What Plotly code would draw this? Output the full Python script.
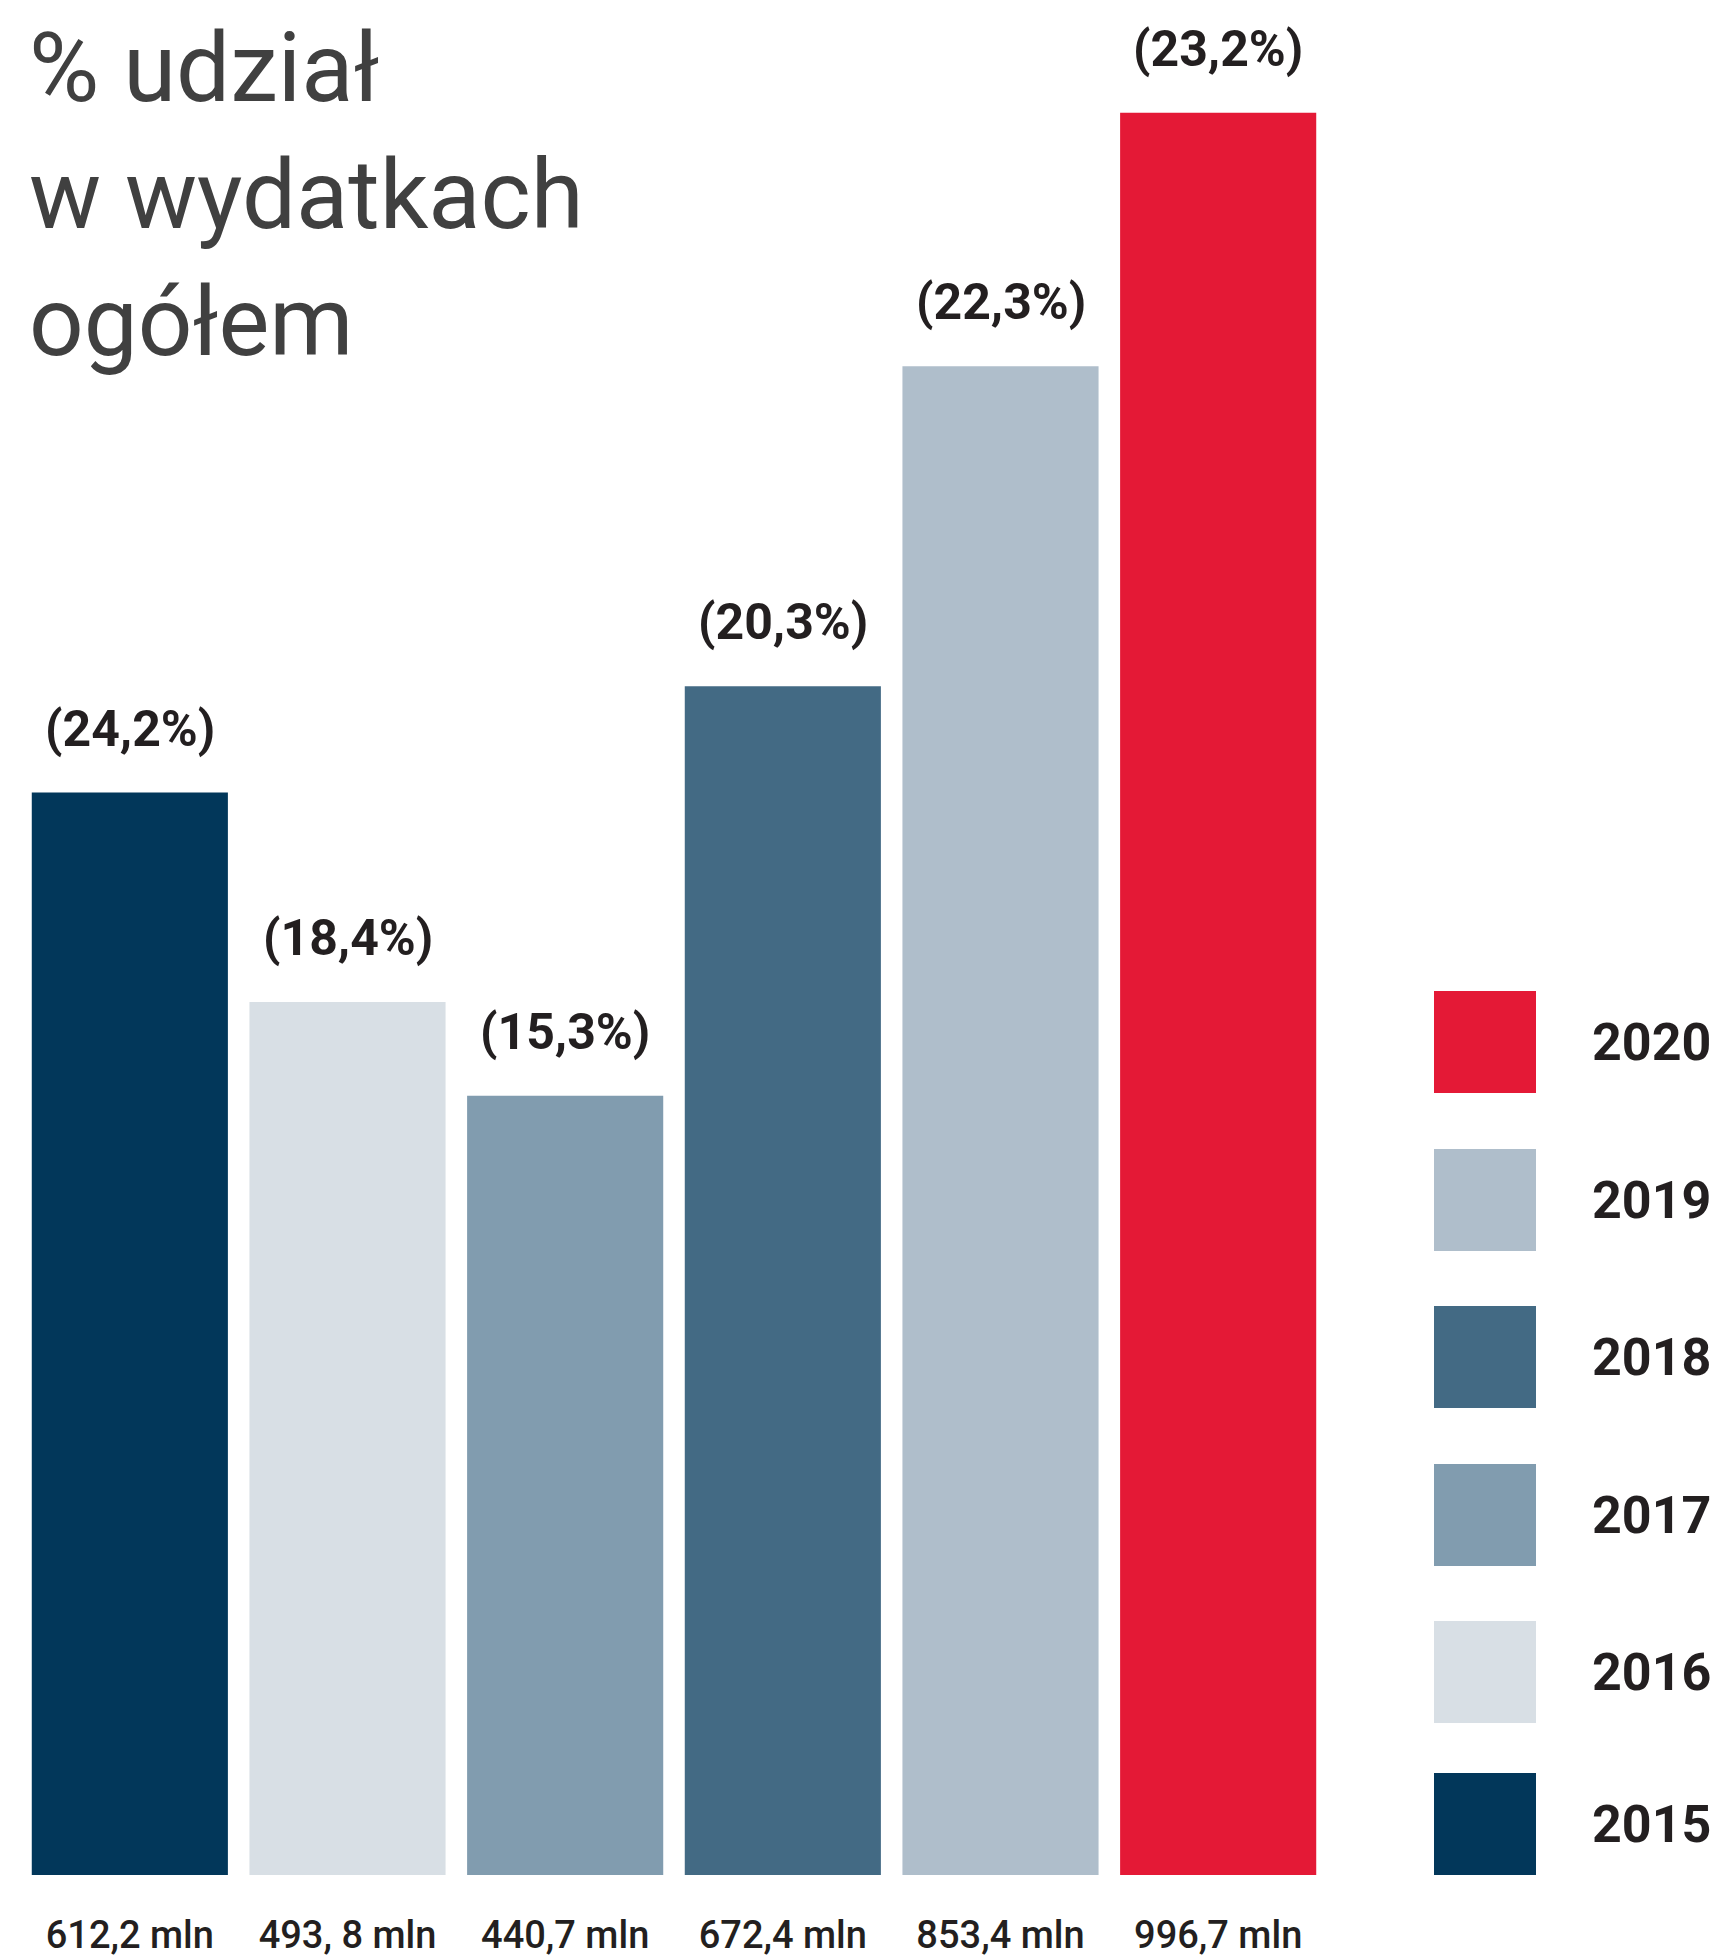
import plotly.graph_objects as go

# ---- data ----
years = ["2015", "2016", "2017", "2018", "2019", "2020"]
values_mln = [612.2, 493.8, 440.7, 672.4, 853.4, 996.7]
value_labels = ["612,2 mln", "493, 8 mln", "440,7 mln", "672,4 mln", "853,4 mln", "996,7 mln"]
share_labels = ["(24,2%)", "(18,4%)", "(15,3%)", "(20,3%)", "(22,3%)", "(23,2%)"]
colors = ["#02375A", "#D8DFE5", "#819CAF", "#436A84", "#AFBECB", "#E41936"]
title_lines = ["% udział", "w wydatkach", "ogółem"]

# ---- layout geometry (pixels) ----
W, H = 1716, 1960
ML, MR, MT, MB = 21, 389, 20, 85
PW = W - ML - MR
PH = H - MT - MB
YMAX = 1049.2

FONT = "Roboto, Liberation Sans, sans-serif"
DARK = "#231F20"


def px_x(px):
    return (px - ML) / PW


def px_y(py):
    return (H - MB - py) / PH


idx = list(range(len(years)))

fig = go.Figure()
fig.add_trace(go.Bar(
    x=idx,
    y=values_mln,
    marker=dict(color=colors, line=dict(width=0)),
    showlegend=False,
    hoverinfo="skip",
))

annotations = []
# percentage labels above bars
for i, v, lab in zip(idx, values_mln, share_labels):
    annotations.append(dict(
        x=i, y=v, xref="x", yref="y", text=lab, showarrow=False,
        yanchor="middle", xanchor="center", yshift=64,
        font=dict(family=FONT, size=50, color=DARK, weight=700),
    ))

# title lines
for i, line in enumerate(title_lines):
    annotations.append(dict(
        x=px_x(27), y=px_y(68 + 127 * i), xref="paper", yref="paper",
        text=line, showarrow=False, xanchor="left", yanchor="middle",
        font=dict(family=FONT, size=96, color="#404040"),
    ))

# legend (custom, top = newest year)
shapes = []
leg_tops = [991, 1149, 1306, 1464, 1621, 1773]
for top, yr, col in zip(leg_tops, years[::-1], colors[::-1]):
    shapes.append(dict(
        type="rect", xref="paper", yref="paper",
        x0=px_x(1434), x1=px_x(1536), y0=px_y(top + 102), y1=px_y(top),
        fillcolor=col, line=dict(width=0), layer="above",
    ))
    annotations.append(dict(
        x=px_x(1590), y=px_y(top + 51), xref="paper", yref="paper",
        text=yr, showarrow=False, xanchor="left", yanchor="middle",
        font=dict(family=FONT, size=52, color=DARK, weight=700),
    ))

fig.update_layout(
    width=W, height=H,
    margin=dict(l=ML, r=MR, t=MT, b=MB, pad=0, autoexpand=False),
    paper_bgcolor="white", plot_bgcolor="white",
    bargap=0.099,
    annotations=annotations,
    shapes=shapes,
    xaxis=dict(
        type="linear", range=[-0.5, 5.5], automargin=False,
        tickmode="array", tickvals=idx, ticktext=value_labels,
        showgrid=False, zeroline=False, showline=False, ticks="",
        tickfont=dict(family=FONT, size=38, color=DARK, weight=500),
        ticklabelstandoff=34,
        fixedrange=True,
    ),
    yaxis=dict(
        range=[0, YMAX], visible=False, showgrid=False, zeroline=False,
        automargin=False, fixedrange=True,
    ),
)

fig.write_html(
    "out.html",
    config={"displayModeBar": False},
    post_script="document.body.style.margin='0';document.body.style.overflow='hidden';",
)
